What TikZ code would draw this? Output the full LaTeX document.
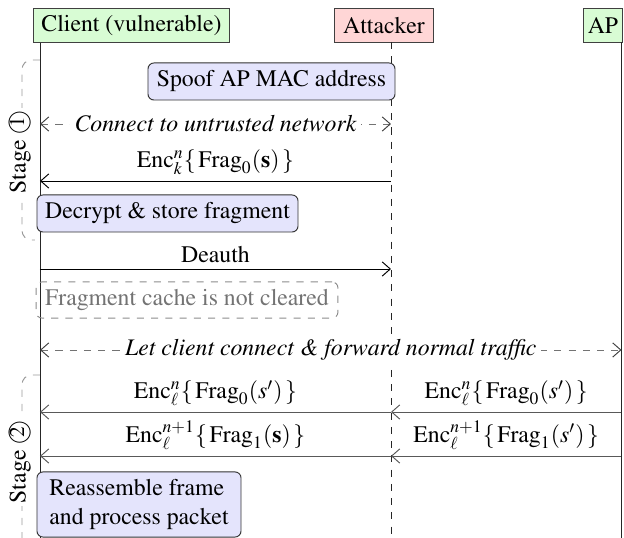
\documentclass[tikz,border=0pt]{standalone}
\usepackage[T1]{fontenc}
\usepackage{mathptmx}
\usetikzlibrary{arrows.meta}
\newcommand\stagenum[1]{\mbox{\ooalign{$\bigcirc$\cr\hidewidth\raisebox{0.15ex}{\small #1}\hidewidth\cr}}}
\definecolor{cgreen}{RGB}{216,252,212}
\definecolor{cred}{RGB}{255,214,214}
\definecolor{cblue}{RGB}{228,228,252}
\begin{document}
\begin{tikzpicture}[x=0.421pt,y=-0.421pt,
  font=\fontsize{10}{12}\selectfont,
  tip/.tip={Straight Barb[length=3.4pt,width=6pt]},
  actor/.style={draw=black!75, minimum height=14.2pt, inner sep=2pt},
  action/.style={draw=black!80, fill=cblue, rounded corners=2.5pt, minimum height=15.6pt, inner sep=3pt},
  note/.style={draw=black!45, dashed, text=black!55, rounded corners=2.5pt, minimum height=15.2pt, inner sep=3pt},
  life/.style={draw=black!85},
  msg/.style={draw=black, -tip},
  msggray/.style={draw=black!65, -tip},
  sync/.style={draw=black!55, dashed, {tip[black!75]}-{tip[black!75]}},
  synclabel/.style={fill=white, inner sep=2pt, font=\fontsize{10}{12}\selectfont\itshape, text=black},
  lab/.style={above, inner sep=2.4pt},
  bracket/.style={draw=black!40, dashed, rounded corners=4pt},
  stagelabel/.style={fill=white, rotate=90, inner sep=1pt}]
\useasboundingbox (0,0) rectangle (624,538);

% actors
\node[actor, fill=cgreen, minimum width=82.9pt] (client) at (131.5,25.5) {Client (vulnerable)};
\node[actor, fill=cred, minimum width=41.3pt] (attacker) at (384,25.5) {Attacker};
\node[actor, fill=cgreen, minimum width=16.8pt] (ap) at (603,25.5) {AP};

% lifelines
\coordinate (ctop) at (40,43);   \coordinate (cbot) at (40,540);
\coordinate (atop) at (391,42);  \coordinate (abot) at (391,540);
\coordinate (ptop) at (621.5,42); \coordinate (pbot) at (621.5,540);
\draw[life] (ctop) -- (cbot);
\draw[life, dashed] (atop) -- (abot);
\draw[life] (ptop) -- (pbot);

% stage brackets
\coordinate (s1a) at (40,60); \coordinate (s1b) at (22,60);
\coordinate (s1c) at (22,240); \coordinate (s1d) at (35,240);
\draw[bracket] (s1a) -- (s1b) -- (s1c) -- (s1d);
\node[stagelabel] (st1) at (20,152) {Stage \stagenum{1}};
\coordinate (s2a) at (40,375); \coordinate (s2b) at (22,375);
\coordinate (s2c) at (22,548); \coordinate (s2d) at (40,548);
\draw[bracket] (s2a) -- (s2b) -- (s2c) -- (s2d);
\node[stagelabel] (st2) at (20,462) {Stage \stagenum{2}};

% stage 1
\node[action, minimum width=104pt] (spoof) at (271.5,81.5) {Spoof AP MAC address};

\coordinate (c1) at (40,124); \coordinate (a1) at (391,124);
\draw[sync] (c1) -- node[synclabel] (l1) {Connect to untrusted network} (a1);

\coordinate (c2) at (40,181); \coordinate (a2) at (391,181);
\draw[msg] (a2) -- node[lab] (l2) {$\mathrm{Enc}^n_k\{\,\mathrm{Frag}_0(\mathbf{s})\,\}$} (c2);

\node[action, minimum width=109.9pt] (decrypt) at (167.5,213.5) {Decrypt \& store fragment};

\coordinate (c3) at (40,269); \coordinate (a3) at (391,269);
\draw[msg] (c3) -- node[lab] (l3) {Deauth} (a3);

\node[note, minimum width=127.1pt] (cache) at (187,300) {Fragment cache is not cleared};

\coordinate (c4) at (40,350); \coordinate (p4) at (621.5,350);
\draw[sync] (c4) -- node[synclabel] (l4) {Let client connect \& forward normal traffic} (p4);

% stage 2
\coordinate (c5) at (40,412); \coordinate (a5) at (391,412); \coordinate (p5) at (621.5,412);
\draw[msggray] (a5) -- node[lab] (l5a) {$\mathrm{Enc}^n_\ell\{\,\mathrm{Frag}_0(s')\,\}$} (c5);
\draw[msggray] (p5) -- node[lab] (l5b) {$\mathrm{Enc}^n_\ell\{\,\mathrm{Frag}_0(s')\,\}$} (a5);

\coordinate (c6) at (40,456); \coordinate (a6) at (391,456); \coordinate (p6) at (621.5,456);
\draw[msggray] (a6) -- node[lab] (l6a) {$\mathrm{Enc}^{n+1}_\ell\{\,\mathrm{Frag}_1(\mathbf{s})\,\}$} (c6);
\draw[msggray] (p6) -- node[lab] (l6b) {$\mathrm{Enc}^{n+1}_\ell\{\,\mathrm{Frag}_1(s')\,\}$} (a6);

\node[action, minimum width=85.9pt, minimum height=27.4pt, align=left] (reasm) at (139,504.5) {Reassemble frame\\and process packet};
\end{tikzpicture}
\end{document}
